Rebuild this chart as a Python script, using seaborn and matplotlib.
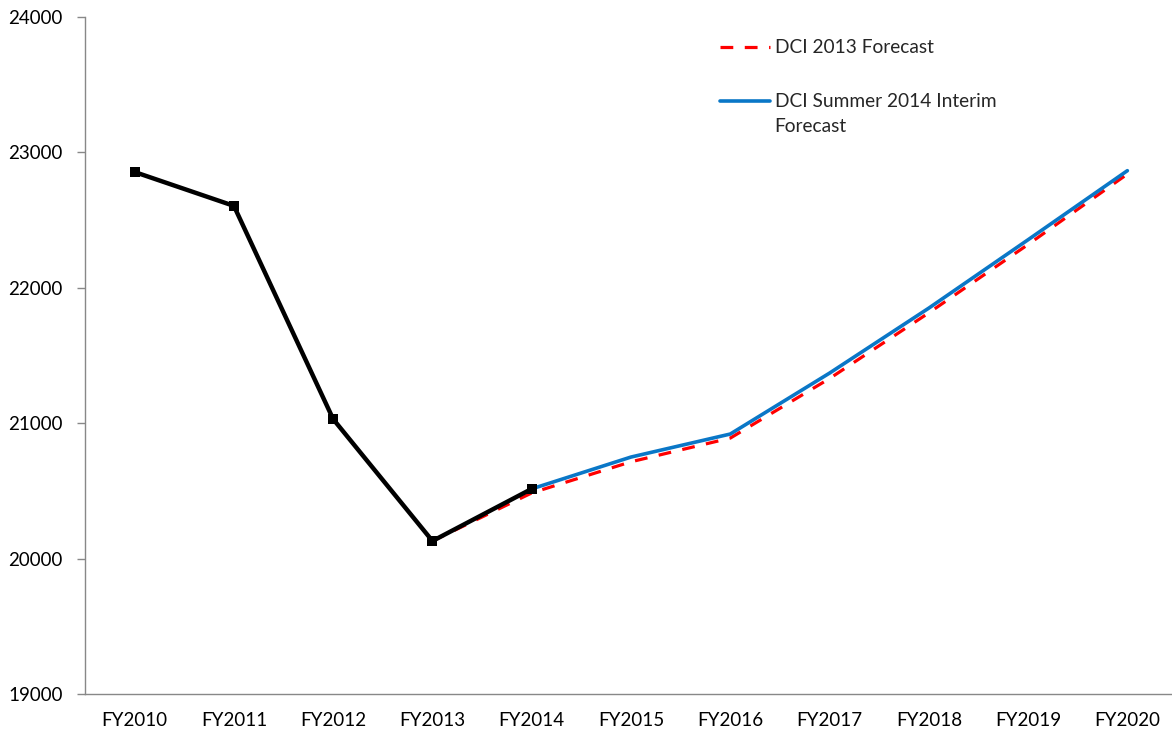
import pandas as pd
import seaborn as sns
import matplotlib.pyplot as plt

# fiscal years on the category axis
years = ['FY2010', 'FY2011', 'FY2012', 'FY2013', 'FY2014', 'FY2015',
         'FY2016', 'FY2017', 'FY2018', 'FY2019', 'FY2020']

# actuals FY2010-FY2014
actual_years = ['FY2010', 'FY2011', 'FY2012', 'FY2013', 'FY2014']
actual = [22855, 22605, 21030, 20130, 20515]

# DCI 2013 forecast FY2013-FY2020
dci2013_years = ['FY2013', 'FY2014', 'FY2015', 'FY2016', 'FY2017', 'FY2018', 'FY2019', 'FY2020']
dci2013 = [20130, 20485, 20715, 20890, 21330, 21815, 22320, 22840]

# DCI Summer 2014 interim forecast FY2014-FY2020
summer_years = ['FY2014', 'FY2015', 'FY2016', 'FY2017', 'FY2018', 'FY2019', 'FY2020']
summer2014 = [20515, 20750, 20920, 21370, 21850, 22355, 22865]

label_2013 = 'DCI 2013 Forecast'
label_2014 = 'DCI Summer 2014 Interim\nForecast'


def frame(names, values):
    return pd.DataFrame({'pos': [years.index(n) for n in names], 'value': values})


def main():
    sns.set_style('white')
    plt.rcParams['font.family'] = ['Lato', 'DejaVu Sans']

    fig = plt.figure(figsize=(11.72, 7.34), dpi=100)
    ax = fig.add_axes([85 / 1172, 40 / 734, 1092 / 1172, 677 / 734])

    sns.lineplot(data=frame(dci2013_years, dci2013), x='pos', y='value', ax=ax,
                 color='#ff0000', linewidth=2.3, dashes=False, zorder=2, label=label_2013)
    ax.lines[-1].set_dashes((4, 3.6))
    sns.lineplot(data=frame(summer_years, summer2014), x='pos', y='value', ax=ax,
                 color='#0a77c7', linewidth=2.6, zorder=3, label=label_2014)
    sns.lineplot(data=frame(actual_years, actual), x='pos', y='value', ax=ax,
                 color='black', linewidth=3.2, marker='s', markersize=6.5,
                 markeredgewidth=0, zorder=4, legend=False)

    ax.set_xlim(-0.5, len(years) - 0.5)
    ax.set_ylim(19000, 24000)
    ax.set_yticks(range(19000, 24001, 1000))
    ax.set_xticks(range(len(years)))
    ax.set_xticklabels(years)
    ax.set_xticks([i - 0.5 for i in range(len(years) + 1)], minor=True)
    ax.set_xlabel('')
    ax.set_ylabel('')

    spine_col = '#888888'
    for side in ['top', 'right']:
        ax.spines[side].set_visible(False)
    for side in ['left', 'bottom']:
        ax.spines[side].set_color(spine_col)
        ax.spines[side].set_linewidth(1.0)

    ax.tick_params(axis='x', which='major', length=0, pad=13, labelsize=13.5, colors='black')
    ax.tick_params(axis='x', which='minor', length=6, width=1, color=spine_col, direction='out')
    ax.tick_params(axis='y', which='major', length=6, width=1, color=spine_col,
                   direction='out', pad=10, labelsize=13.5, labelcolor='black')
    ax.tick_params(left=True, bottom=True)

    leg = ax.legend(loc='upper left', bbox_to_anchor=(0.5815, 0.9675), frameon=False,
                    fontsize=13.8, borderaxespad=0, borderpad=0, handlelength=2.6,
                    handletextpad=0.25, labelspacing=1.85, handleheight=1.1)
    for txt in leg.get_texts():
        txt.set_linespacing(1.6)
    for col in leg._legend_handle_box.get_children():
        for row in col.get_children():
            row.align = 'top'

    plt.savefig('out.png', dpi=100)
    plt.close()


if __name__ == "__main__":
    main()
